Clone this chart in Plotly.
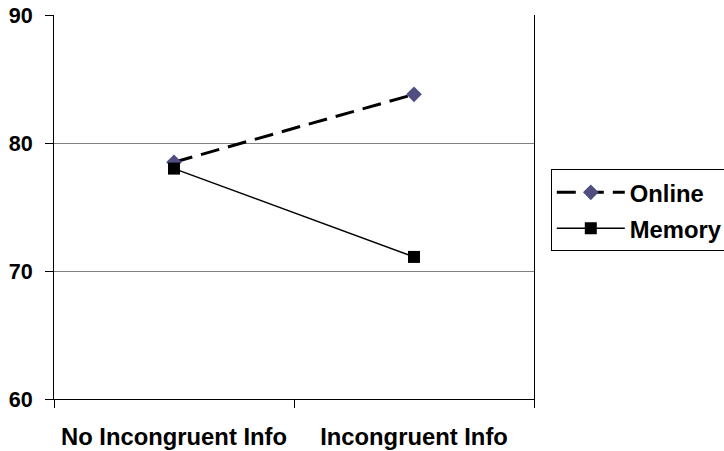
import plotly.graph_objects as go

categories = ["No Incongruent Info", "Incongruent Info"]
online = [78.5, 83.8]
memory = [78.0, 71.1]
y_ticks = [60, 70, 80, 90]

FONT = "Liberation Sans, Arial, sans-serif"
FS = 23.8
FS_Y = 21.6

fig = go.Figure()
fig.add_trace(go.Scatter(
    x=categories, y=online, name="<b>Online</b>", mode="lines+markers",
    line=dict(color="black", width=3, dash="19px,9px"),
    marker=dict(symbol="diamond", size=12, color="#504E80"),
    legendgroup="a",
))
fig.add_trace(go.Scatter(
    x=categories, y=memory, name="<b>Memory</b>", mode="lines+markers",
    line=dict(color="black", width=1.5),
    marker=dict(symbol="square", size=12, color="black"),
    legendgroup="b",
))

fig.update_layout(
    width=724, height=451,
    margin=dict(l=54, r=190, t=15, b=52, autoexpand=False),
    paper_bgcolor="white", plot_bgcolor="white",
    font=dict(family=FONT, size=FS, color="black"),
    showlegend=True,
    legend=dict(
        x=1.035, xanchor="left", y=0.598, yanchor="top",
        bordercolor="black", borderwidth=1,
        font=dict(family=FONT, size=FS, color="black"),
        traceorder="grouped", tracegroupgap=2,
        itemwidth=68,
    ),
    xaxis=dict(
        type="category", range=[-0.5, 1.5], automargin=False,
        showline=True, linecolor="black", linewidth=1,
        ticks="outside", ticklen=8, tickcolor="black", tickson="boundaries",
        showgrid=False,
        tickfont=dict(family=FONT, size=FS, color="black", weight="bold"),
        ticklabelstandoff=16,
    ),
    yaxis=dict(
        range=[60, 90], tickvals=y_ticks, automargin=False,
        showline=True, linecolor="black", linewidth=1, mirror=True,
        ticks="outside", ticklen=8, tickcolor="black",
        showgrid=True, gridcolor="#808080", gridwidth=1,
        zeroline=False, ticklabeloverflow="allow",
        tickfont=dict(family=FONT, size=FS_Y, color="black", weight="bold"),
        ticklabelstandoff=8,
    ),
)

fig.write_html("out.html", config={"displayModeBar": False},
               post_script="document.body.style.margin='0px';")
